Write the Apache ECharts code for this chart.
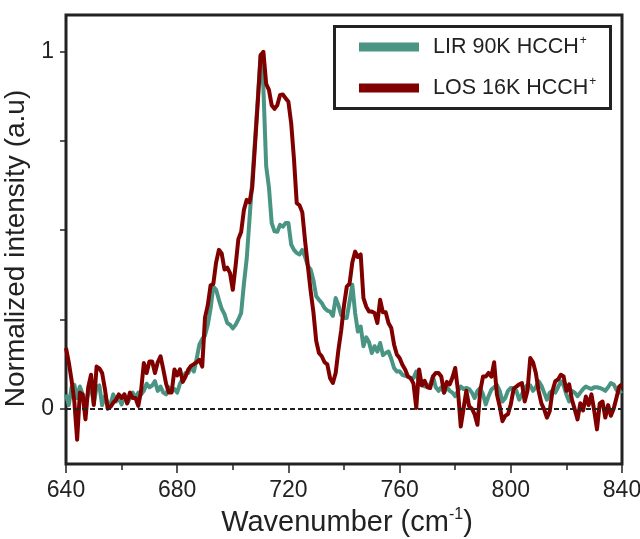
<!DOCTYPE html>
<html>
<head>
<meta charset="utf-8">
<script src="https://cdn.jsdelivr.net/npm/echarts@6/dist/echarts.min.js"></script>
<style>html,body{margin:0;padding:0;background:#fff}#c{width:640px;height:539px}</style>
</head>
<body>
<div id="c"></div>
<script>
// Wavenumber grid (cm-1), one point per 1 cm-1 from 640 to 840
const wavenumbers = Array.from({length: 201}, (_, i) => 640 + i);

const seriesNames = ['LIR 90K HCCH', 'LOS 16K HCCH'];

// LIR 90K HCCH+ (teal)
const lir90K = [
0.04,0.01,0.06,0.067,0.03,0.062,0.04,0.01,0.045,0.06,
0.015,0.06,0.065,0.01,0.035,0.015,0.012,0.04,0.02,0.03,
0.012,0.04,0.015,0.03,0.045,0.03,0.045,0.04,0.05,0.07,
0.06,0.065,0.077,0.05,0.062,0.045,0.04,0.06,0.05,0.055,
0.045,0.07,0.085,0.1,0.1,0.118,0.104,0.14,0.18,0.195,
0.205,0.235,0.28,0.342,0.333,0.305,0.28,0.265,0.24,0.235,
0.225,0.235,0.25,0.268,0.35,0.42,0.53,0.64,0.753,0.87,
0.99,0.9,0.68,0.62,0.52,0.497,0.496,0.515,0.51,0.52,
0.52,0.46,0.445,0.436,0.432,0.445,0.425,0.40,0.39,0.36,
0.315,0.305,0.296,0.282,0.275,0.272,0.26,0.31,0.29,0.262,
0.254,0.254,0.30,0.347,0.268,0.216,0.23,0.175,0.2,0.186,
0.156,0.175,0.16,0.184,0.15,0.156,0.16,0.14,0.114,0.104,
0.105,0.095,0.092,0.09,0.086,0.086,0.104,0.072,0.076,0.062,
0.064,0.068,0.09,0.06,0.05,0.06,0.045,0.06,0.05,0.045,
0.035,0.05,0.062,0.055,0.058,0.055,0.045,0.03,0.05,0.058,
0.04,0.012,0.035,0.053,0.06,0.067,0.05,0.02,0.03,0.05,
0.058,0.058,0.05,0.025,0.04,0.058,0.067,0.065,0.05,0.06,
0.077,0.065,0.045,0.025,0.045,0.05,0.045,0.06,0.077,0.065,
0.04,0.02,0.05,0.045,0.035,0.045,0.055,0.062,0.058,0.055,
0.06,0.06,0.058,0.055,0.05,0.06,0.072,0.068,0.053,0.045,
0.05
];

// LOS 16K HCCH+ (dark red)
const los16K = [
0.17,0.13,0.08,0.02,-0.087,0.045,0.04,-0.03,0.06,0.095,
0.01,0.118,0.113,0.10,0.055,0.0,0.005,0.017,0.025,0.04,
0.03,0.04,0.015,0.045,0.03,0.03,0.008,0.05,0.128,0.10,
0.132,0.132,0.10,0.13,0.147,0.11,0.07,0.045,0.045,0.11,
0.093,0.11,0.075,0.09,0.11,0.12,0.125,0.13,0.137,0.118,
0.255,0.29,0.345,0.35,0.41,0.445,0.435,0.39,0.395,0.38,
0.333,0.40,0.475,0.495,0.557,0.585,0.578,0.62,0.74,0.86,
0.99,1.0,0.91,0.893,0.85,0.84,0.85,0.879,0.88,0.87,
0.86,0.80,0.70,0.576,0.57,0.55,0.47,0.40,0.33,0.27,
0.19,0.156,0.147,0.13,0.124,0.085,0.072,0.10,0.165,0.22,
0.29,0.342,0.35,0.41,0.44,0.425,0.432,0.31,0.286,0.272,
0.272,0.268,0.24,0.305,0.27,0.27,0.24,0.226,0.18,0.152,
0.142,0.123,0.11,0.09,0.085,0.07,0.002,0.11,0.065,0.078,
0.06,0.058,0.09,0.1,0.1,0.09,0.045,0.075,0.068,0.087,
0.114,0.05,-0.05,0.0,0.05,0.007,0.0,-0.016,-0.045,0.05,
0.09,0.09,0.1,0.09,0.13,0.04,0.007,-0.035,-0.02,-0.015,
0.012,0.055,0.062,0.068,0.072,0.02,0.05,0.142,0.13,0.1,
0.05,0.015,-0.002,-0.025,-0.007,0.05,0.077,0.082,0.095,0.09,
0.05,0.068,0.025,-0.002,-0.03,0.015,-0.005,0.034,0.01,0.04,
-0.005,-0.058,0.015,0.02,-0.025,0.01,-0.02,0.0,0.03,0.062,
0.068
];

const xTickLabels = [640, 680, 720, 760, 800, 840];
const yTickValues = [0, 0.25, 0.5, 0.75, 1];
const yTickLabels = [0, 1];

const FONT = 'Liberation Sans, Arial, sans-serif';
const TXT = '#222';

const chart = echarts.init(document.getElementById('c'), null, {renderer: 'canvas'});
chart.setOption({
  animation: false,
  backgroundColor: '#fff',
  grid: {left: 66, right: 18, top: 15, bottom: 75, show: true, borderColor: '#222', borderWidth: 3,
         backgroundColor: 'transparent', outerBoundsMode: 'none', containLabel: false},
  xAxis: {
    type: 'value', min: 640, max: 840, interval: 40,
    axisLine: {show: false, onZero: false},
    splitLine: {show: false},
    axisTick: {show: true, length: 9, inside: false, lineStyle: {color: '#222', width: 1.5}},
    minorTick: {show: true, splitNumber: 2, length: 6, lineStyle: {color: '#222', width: 1.5}},
    axisLabel: {
      fontFamily: FONT, fontSize: 23, color: TXT, margin: 15,
      customValues: xTickLabels
    },
    name: '{a|Wavenumber (cm}{s|-1}{a|)}',
    nameLocation: 'middle', nameGap: 41,
    nameTextStyle: {
      padding: [0, 0, 0, 6],
      rich: {
        a: {fontFamily: FONT, fontSize: 29, color: TXT, lineHeight: 32},
        s: {fontFamily: FONT, fontSize: 16, color: TXT, lineHeight: 32, verticalAlign: 'top', padding: [0, 0, 12, 0]}
      }
    }
  },
  yAxis: {
    type: 'value', min: -0.155, max: 1.103,
    axisLine: {show: false, onZero: false},
    splitLine: {show: false},
    axisTick: {show: true, length: 6, inside: false, lineStyle: {color: '#222', width: 1.5}, customValues: yTickValues},
    axisLabel: {fontFamily: FONT, fontSize: 23, color: TXT, margin: 12, customValues: yTickLabels},
    name: 'Normalized intensity (a.u)',
    nameLocation: 'middle', nameGap: 24,
    nameTextStyle: {fontFamily: FONT, fontSize: 28, color: TXT, padding: [0, 18, 0, 0]}
  },
  legend: {
    show: true, orient: 'vertical', left: 359, top: 35, padding: 0, itemGap: 18,
    itemWidth: 60, itemHeight: 9, icon: 'rect',
    data: seriesNames,
    formatter: n => '{a|' + n + '}{s|+}',
    textStyle: {
      padding: [0, 0, 0, 9],
      rich: {
        a: {fontFamily: FONT, fontSize: 21.5, color: TXT, lineHeight: 24},
        s: {fontFamily: FONT, fontSize: 12, color: TXT, lineHeight: 24, verticalAlign: 'top', padding: [0, 0, 8, 1]}
      }
    }
  },
  graphic: [{
    type: 'rect', left: 332, top: 24, z: 100, silent: true,
    shape: {width: 276, height: 82},
    style: {fill: 'none', stroke: '#222', lineWidth: 3}
  }],
  series: [
    {
      name: seriesNames[0], type: 'line', showSymbol: false, symbol: 'none',
      data: wavenumbers.map((w, i) => [w, lir90K[i]]),
      lineStyle: {color: '#4a9483', width: 4, join: 'round'},
      itemStyle: {color: '#4a9483'},
      markLine: {
        silent: true, symbol: 'none', label: {show: false},
        lineStyle: {color: '#222', type: [5, 3], width: 2},
        data: [{yAxis: 0}]
      },
      z: 2
    },
    {
      name: seriesNames[1], type: 'line', showSymbol: false, symbol: 'none',
      data: wavenumbers.map((w, i) => [w, los16K[i]]),
      lineStyle: {color: '#800000', width: 4, join: 'round'},
      itemStyle: {color: '#800000'},
      z: 3
    }
  ]
});
</script>
</body>
</html>
